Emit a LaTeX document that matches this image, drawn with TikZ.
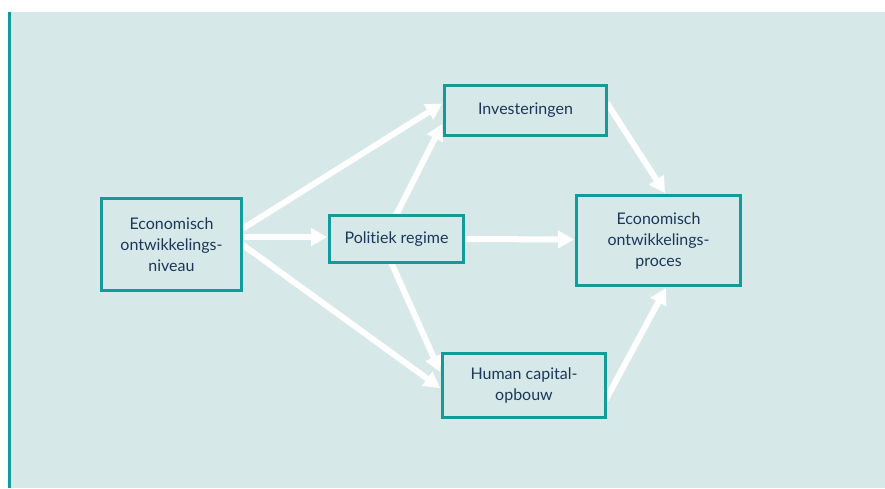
\documentclass[tikz,border=0pt]{standalone}
\usepackage{fontspec}
\setmainfont{Lato}[Ligatures={NoCommon,NoRare}]
\usetikzlibrary{arrows.meta,calc}
\definecolor{bgc}{HTML}{D6E8E8}
\definecolor{teal}{HTML}{129B98}
\definecolor{ink}{HTML}{1B385A}
\pgfdeclarelayer{arrowlayer}
\pgfdeclarelayer{bglayer}
\pgfsetlayers{bglayer,arrowlayer,main}
\tikzset{
  box/.style={draw=teal, line width=2.8pt, fill=bgc, align=center, text=ink,
    font=\fontsize{16}{21}\selectfont, inner sep=0pt},
  flow/.style={draw=white, line width=6pt,
    -{Triangle[length=16pt,width=17pt]}}
}
\begin{document}
\begin{tikzpicture}[x=1pt,y=-1pt]
\useasboundingbox (0,0) rectangle (885,488);
\begin{pgfonlayer}{bglayer}
\fill[white] (0,0) rectangle (885,488);
\fill[bgc] (11,12) rectangle (885,488);
\fill[teal] (8,12) rectangle (11,488);
\end{pgfonlayer}

\node[box, minimum width=140pt, minimum height=92pt] (A) at (171.5,244.5)
  {Economisch\\ontwikkelings-\\niveau};
\node[box, minimum width=134pt, minimum height=47pt] (P) at (396.5,239)
  {Politiek regime};
\node[box, minimum width=162pt, minimum height=50pt] (I) at (525.5,110.5)
  {Investeringen};
\node[box, minimum width=164pt, minimum height=90pt] (E) at (658.5,240.5)
  {Economisch\\ontwikkelings-\\proces};
\node[box, minimum width=163pt, minimum height=64pt] (H) at (524,385.5)
  {Human capital-\\opbouw};

\begin{pgfonlayer}{arrowlayer}
\draw[flow] ($(A.east)+(0,-16)$) -- ($(I.west)+(-1,-7)$);
\draw[flow] ($(A.east)+(0,-7.5)$) -- ($(P.west)+(-1,-2)$);
\draw[flow] ($(A.east)+(0,0.5)$) -- ($(H.west)+(-1,2.5)$);
\draw[flow] ($(P.north)+(-1,2)$) -- ($(I.west)+(-1,13.5)$);
\draw[flow] ($(P.south)+(-5.5,-2)$) -- ($(H.west)+(-1,-13.5)$);
\draw[flow] ($(P.east)+(0,0)$) -- ($(E.west)+(-1,-1)$);
\draw[flow] ($(I.east)+(-1,-7.5)$) -- ($(E.north)+(6.5,-1)$);
\draw[flow] ($(H.east)+(-1,14)$) -- ($(E.south)+(7.5,1)$);
\end{pgfonlayer}
\end{tikzpicture}
\end{document}
